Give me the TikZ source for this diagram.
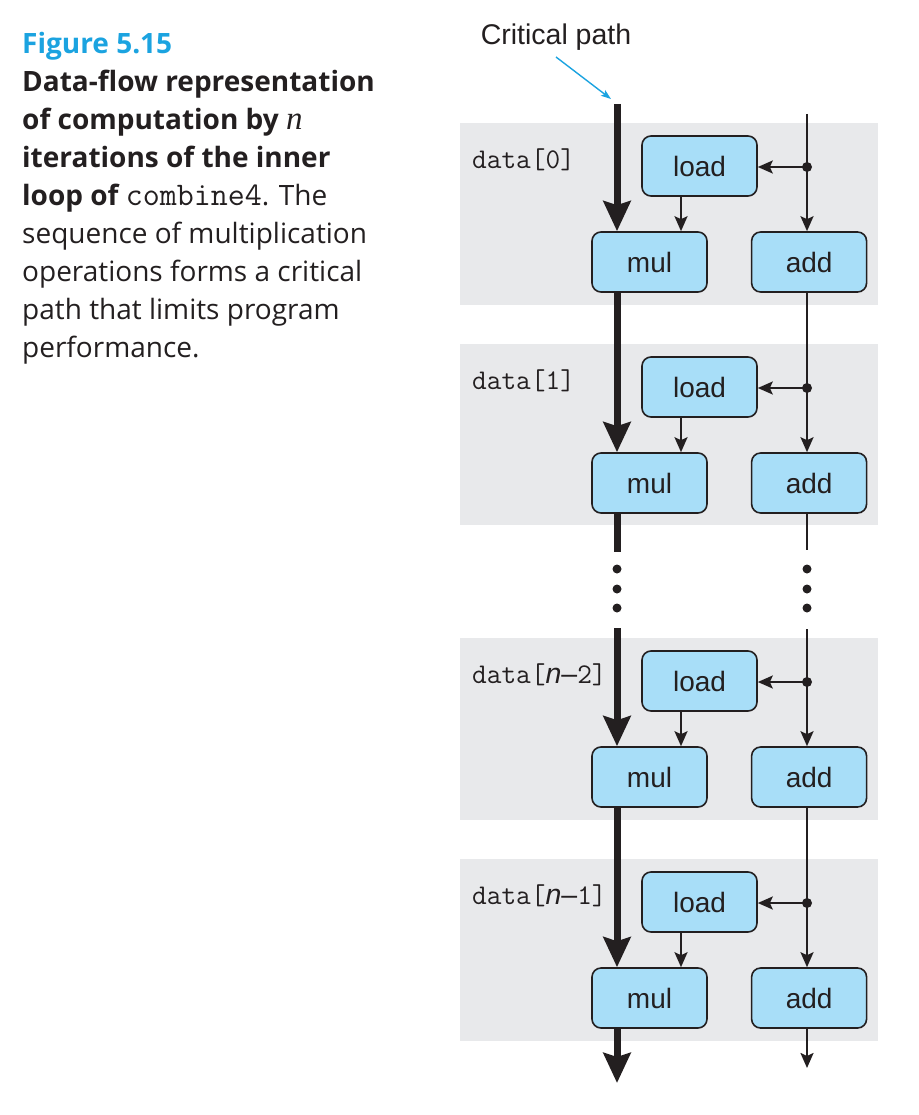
\documentclass[tikz,border=0pt]{standalone}
\usepackage{fontspec}
\setmainfont{Open Sans}
\setsansfont{Liberation Sans}
\setmonofont{Latin Modern Mono}
\newfontfamily\capserif{Liberation Serif}
\usetikzlibrary{arrows.meta}
\usetikzlibrary{positioning}
\definecolor{fig-blue}{RGB}{27, 163, 224}
\definecolor{box-blue}{RGB}{168, 222, 248}
\definecolor{band-grey}{RGB}{232, 233, 235}
\definecolor{ink}{RGB}{35, 31, 32}
\tikzset{
  band/.style={fill=band-grey},
  op/.style={draw=ink, line width=1.6pt, fill=box-blue, rounded corners=9pt,
    minimum width=115pt, minimum height=60pt, inner sep=0pt,
    font=\fontsize{28}{30}\sffamily, text=ink},
  datalbl/.style={anchor=west, inner sep=0pt, font=\fontsize{28.5}{30}\ttfamily, text=ink},
  crit/.style={draw=ink, line width=7pt},
  critarrow/.style={crit, -{Stealth[length=30pt, width=27pt, inset=4pt]}},
  wire/.style={draw=ink, line width=2.2pt},
  flow/.style={wire, -{Stealth[length=15pt, width=13pt, inset=3pt]}},
  cparrow/.style={draw=fig-blue, line width=1.4pt, -{Stealth[length=10pt, width=7pt, inset=2pt]}},
  junction/.style={fill=ink}
}
\begin{document}
\begin{tikzpicture}[x=1pt, y=-1pt]
\useasboundingbox (0,0) rectangle (918,1115);
% caption
\node[anchor=north west, inner sep=0pt, align=left, text=ink,
  font=\fontsize{28}{38}\selectfont] (caption) at (22,32) {%
  {\color{fig-blue}\bfseries Figure 5.15}\\
  {\bfseries Data-flow representation}\\
  {\bfseries of computation by} {\fontsize{33}{38}\capserif\itshape n}\\
  {\bfseries iterations of the inner}\\
  {\bfseries loop of} {\fontsize{33}{38}\ttfamily combine4}. The\\
  sequence of multiplication\\
  operations forms a critical\\
  path that limits program\\
  performance.};
% grey bands
\fill[band] (460,123) rectangle (878,305);
\fill[band] (460,344) rectangle (878,525);
\fill[band] (460,638) rectangle (878,820);
\fill[band] (460,859) rectangle (878,1041);
% labels
\node[datalbl] (d0) at (472,160) {data[0]};
\node[datalbl] (d1) at (472,381) {data[1]};
\node[datalbl] (d2) at (472,675) {data[{\sffamily\itshape n}{\sffamily –}2]};
\node[datalbl] (d3) at (472,896) {data[{\sffamily\itshape n}{\sffamily –}1]};
% operations
\node[op] (load0) at (699.5,166) {load};
\node[op] (mul0) at (649.5,262) {mul};
\node[op, right=43pt of mul0] (add0) {add};
\node[op] (load1) at (699.5,387) {load};
\node[op] (mul1) at (649.5,483) {mul};
\node[op, right=43pt of mul1] (add1) {add};
\node[op] (load2) at (699.5,681) {load};
\node[op] (mul2) at (649.5,777) {mul};
\node[op, right=43pt of mul2] (add2) {add};
\node[op] (load3) at (699.5,902) {load};
\node[op] (mul3) at (649.5,998) {mul};
\node[op, right=43pt of mul3] (add3) {add};
% points on the two columns
\coordinate (ctop) at (617,104);
\coordinate (cbreak) at (617,552);
\coordinate (cresume) at (617,628);
\coordinate (cend) at (617,1083);
\coordinate (rtop) at (807,114);
\coordinate (rbreak) at (807,550);
\coordinate (rresume) at (807,629);
\coordinate (rend) at (807,1068);
\coordinate (lx) at (681,0);
\coordinate (j0) at (807,167);
\coordinate (j1) at (807,388);
\coordinate (j2) at (807,682);
\coordinate (j3) at (807,903);
% critical path
\node[font=\fontsize{28.5}{30}\sffamily, text=ink] (cp) at (556,37) {Critical path};
\coordinate (cpfrom) at (556,57);
\coordinate (cptip) at (611,99);
\draw[cparrow] (cpfrom) -- (cptip);
\draw[critarrow] (ctop) -- (ctop |- mul0.north);
\draw[critarrow] (ctop |- mul0.south) -- (ctop |- mul1.north);
\draw[crit] (ctop |- mul1.south) -- (cbreak);
\draw[critarrow] (cresume) -- (ctop |- mul2.north);
\draw[critarrow] (ctop |- mul2.south) -- (ctop |- mul3.north);
\draw[critarrow] (ctop |- mul3.south) -- (cend);
\fill[ink] (617,569) circle (4.5pt);
\fill[ink] (617,589) circle (4.5pt);
\fill[ink] (617,608) circle (4.5pt);
% load into mul
\draw[flow] (lx |- load0.south) -- (lx |- mul0.north);
\draw[flow] (lx |- load1.south) -- (lx |- mul1.north);
\draw[flow] (lx |- load2.south) -- (lx |- mul2.north);
\draw[flow] (lx |- load3.south) -- (lx |- mul3.north);
% index column
\draw[wire] (rtop) -- (j0);
\draw[flow] (j0) -- (j0 |- add0.north);
\draw[flow] (j0) -- (j0 -| load0.east);
\draw[wire] (j0 |- add0.south) -- (j1);
\draw[flow] (j1) -- (j1 |- add1.north);
\draw[flow] (j1) -- (j1 -| load1.east);
\draw[wire] (j1 |- add1.south) -- (rbreak);
\fill[ink] (807,569) circle (4.5pt);
\fill[ink] (807,589) circle (4.5pt);
\fill[ink] (807,608) circle (4.5pt);
\draw[wire] (rresume) -- (j2);
\draw[flow] (j2) -- (j2 |- add2.north);
\draw[flow] (j2) -- (j2 -| load2.east);
\draw[wire] (j2 |- add2.south) -- (j3);
\draw[flow] (j3) -- (j3 |- add3.north);
\draw[flow] (j3) -- (j3 -| load3.east);
\draw[flow] (j3 |- add3.south) -- (rend);
\fill[junction] (j0) circle (5pt);
\fill[junction] (j1) circle (5pt);
\fill[junction] (j2) circle (5pt);
\fill[junction] (j3) circle (5pt);
\end{tikzpicture}
\end{document}
